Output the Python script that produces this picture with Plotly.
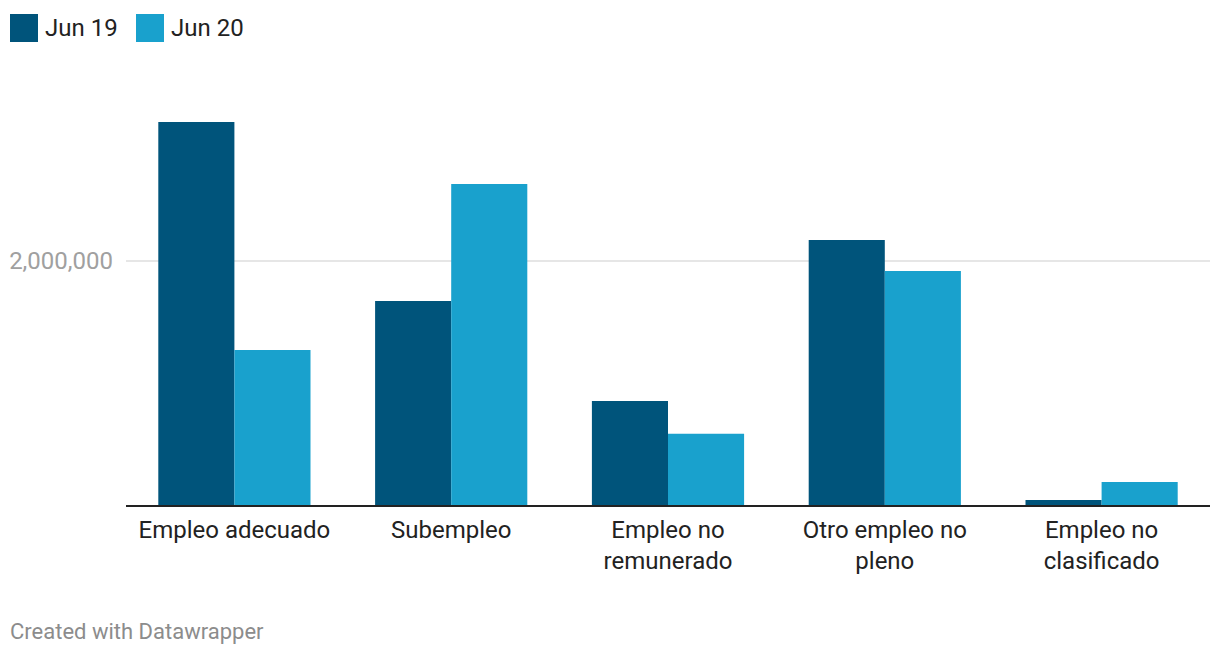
import plotly.graph_objects as go

categories = ["Empleo adecuado", "Subempleo", "Empleo no<br>remunerado",
              "Otro empleo no<br>pleno", "Empleo no<br>clasificado"]
series_names = ["Jun 19", "Jun 20"]
jun19 = [3139000, 1672000, 852000, 2172000, 41000]
jun20 = [1270000, 2631000, 584000, 1918000, 189000]
y_tickvals = [2000000]
y_ticktext = ["2,000,000"]

colors = ["#00547b", "#19a1cd"]
W, H = 1220, 656
OFF = 8  # page body margin offset
ML, MR, MT, MB = 118, 18, 72, 159
PW, PH = W - ML - MR, H - MT - MB
Y_MAX = 3.4836e6

def xp(px):
    return (px - OFF - ML) / PW

def yp(py):
    return (H - MB - (py - OFF)) / PH

fig = go.Figure()
for name, vals, col in zip(series_names, [jun19, jun20], colors):
    fig.add_trace(go.Bar(x=categories, y=vals, name=name, marker_color=col,
                         marker_line_width=0, showlegend=False,
                         hovertemplate="%{y:,}<extra>" + name + "</extra>"))

# custom legend (squares + labels), positions in screen pixels
legend_x = [10, 136]
shapes = []
annotations = []
for name, col, lx in zip(series_names, colors, legend_x):
    shapes.append(dict(type="rect", xref="paper", yref="paper",
                       x0=xp(lx), x1=xp(lx + 28), y0=yp(42), y1=yp(14),
                       fillcolor=col, line_width=0))
    annotations.append(dict(text=name, xref="paper", yref="paper",
                            x=xp(lx + 33), y=yp(28), xanchor="left", yanchor="middle",
                            showarrow=False,
                            font=dict(family="Roboto", size=24, color="#222222")))

annotations.append(dict(text="Created with Datawrapper", xref="paper", yref="paper",
                        x=xp(8), y=yp(631), xanchor="left", yanchor="middle",
                        showarrow=False,
                        font=dict(family="Roboto", size=22, color="#8c8c8c")))

fig.update_layout(
    width=W, height=H,
    margin=dict(l=ML, r=MR, t=MT, b=MB, autoexpand=False),
    paper_bgcolor="white", plot_bgcolor="white",
    barmode="group", bargap=0.298, bargroupgap=0,
    font=dict(family="Roboto", size=24, color="#222222"),
    shapes=shapes, annotations=annotations,
    showlegend=False,
    xaxis=dict(showline=True, linecolor="#222222", linewidth=2, automargin=False,
               showgrid=False, ticks="", tickfont=dict(size=24, color="#222222"),
               ticklabelstandoff=2),
    yaxis=dict(range=[0, Y_MAX], tickvals=y_tickvals, ticktext=y_ticktext,
               automargin=False,
               showgrid=True, gridcolor="#e6e6e6", gridwidth=2,
               zeroline=False, showline=False, ticks="",
               tickfont=dict(size=24, color="#a0a0a0"), ticklabelstandoff=12),
)

fig.write_html("out.html")
